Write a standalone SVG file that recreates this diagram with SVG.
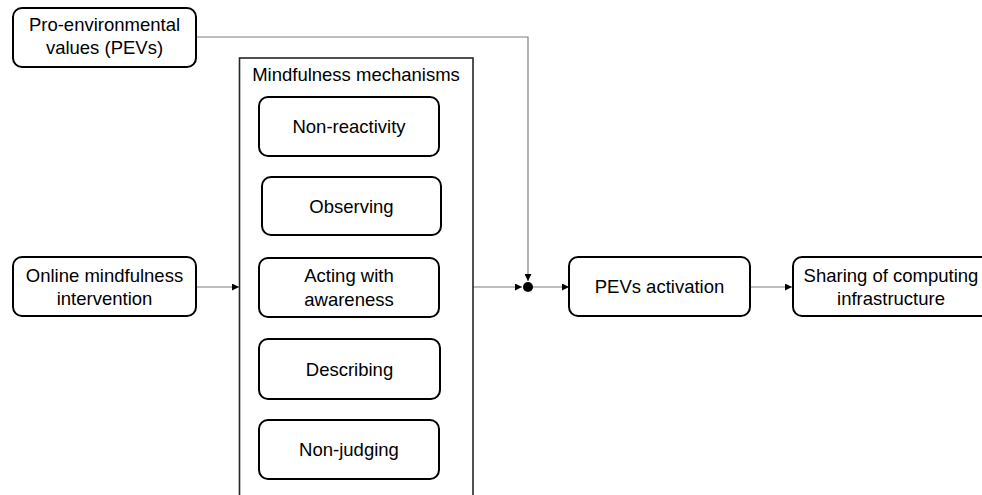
<svg xmlns="http://www.w3.org/2000/svg" width="982" height="495" viewBox="0 0 982 495">
<defs>
<style>
.box{fill:#fff;stroke:#000;stroke-width:2}
.group{fill:#fff;stroke:#262626;stroke-width:1.6}
.t{font-family:"Liberation Sans",Arial,sans-serif;font-size:18.5px;fill:#000;text-anchor:middle}
.c{fill:none;stroke:#7f7f7f;stroke-width:1.2}
</style>
<marker id="ah" viewBox="0 0 10 10" refX="10" refY="5" markerWidth="7" markerHeight="7" markerUnits="userSpaceOnUse" orient="auto">
<path d="M0,0 L10,5 L0,10 Z" fill="#000"/>
</marker>
</defs>
<rect width="982" height="495" fill="#fff"/>
<g id="connectors">
<path class="c" d="M196,37 H528 V281" marker-end="url(#ah)"/>
<path class="c" d="M196,287 H239" marker-end="url(#ah)"/>
<path class="c" d="M473,287 H522" marker-end="url(#ah)"/>
<path class="c" d="M533,287 H569" marker-end="url(#ah)"/>
<path class="c" d="M750,287 H792" marker-end="url(#ah)"/>
<circle cx="528" cy="287" r="5" fill="#000"/>
</g>
<g id="pevs">
<rect class="box" x="13" y="8" width="183" height="59" rx="9"/>
<text class="t" x="104.5" y="31">Pro-environmental</text>
<text class="t" x="104.5" y="54">values (PEVs)</text>
</g>
<g id="mechanisms">
<rect class="group" x="239.5" y="58" width="233.5" height="450"/>
<text class="t" x="356" y="81">Mindfulness mechanisms</text>
</g>
<g id="non-reactivity">
<rect class="box" x="259" y="97" width="180" height="59" rx="9"/>
<text class="t" x="349" y="133">Non-reactivity</text>
</g>
<g id="observing">
<rect class="box" x="262" y="177" width="179" height="58" rx="9"/>
<text class="t" x="351.5" y="212.5">Observing</text>
</g>
<g id="acting">
<rect class="box" x="259" y="258" width="180" height="59" rx="9"/>
<text class="t" x="349" y="282">Acting with</text>
<text class="t" x="349" y="305.5">awareness</text>
</g>
<g id="describing">
<rect class="box" x="259" y="339" width="181" height="60" rx="9"/>
<text class="t" x="349.5" y="375.5">Describing</text>
</g>
<g id="non-judging">
<rect class="box" x="259" y="420" width="180" height="59" rx="9"/>
<text class="t" x="349" y="456">Non-judging</text>
</g>
<g id="intervention">
<rect class="box" x="13" y="257" width="183" height="59" rx="9"/>
<text class="t" x="104.5" y="282">Online mindfulness</text>
<text class="t" x="104.5" y="305">intervention</text>
</g>
<g id="activation">
<rect class="box" x="569" y="257" width="181" height="59" rx="9"/>
<text class="t" x="659.5" y="293">PEVs activation</text>
</g>
<g id="sharing">
<rect class="box" x="793" y="257" width="200" height="59" rx="9"/>
<text class="t" x="891" y="282">Sharing of computing</text>
<text class="t" x="891" y="305">infrastructure</text>
</g>
</svg>
